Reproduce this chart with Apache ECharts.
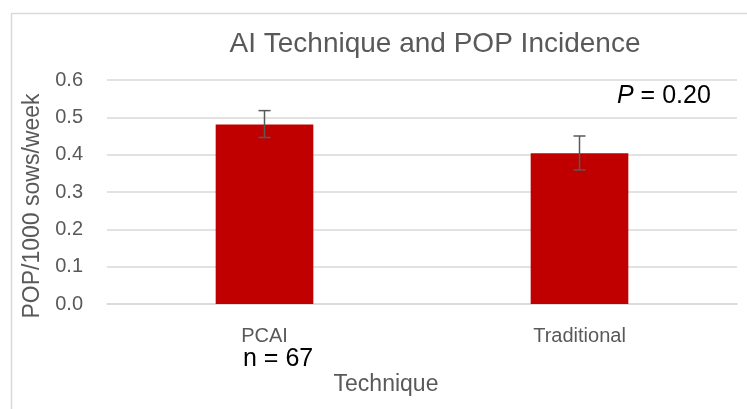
<!DOCTYPE html>
<html>
<head>
<meta charset="utf-8">
<script src="https://cdn.jsdelivr.net/npm/echarts@6/dist/echarts.min.js"></script>
<style>html,body{margin:0;padding:0;background:#fff;}#c{width:747px;height:409px;}</style>
</head>
<body>
<div id="c"></div>
<script>
var categories = ['PCAI', 'Traditional'];
var values = [0.481, 0.404];
var errLow = [0.446, 0.359];
var errHigh = [0.518, 0.450];
var yTicks = [0.0, 0.1, 0.2, 0.3, 0.4, 0.5, 0.6];

var FONT = 'Liberation Sans, Arial, sans-serif';
var chart = echarts.init(document.getElementById('c'));
chart.setOption({
  animation: false,
  backgroundColor: '#fff',
  title: {
    text: 'AI Technique and POP Incidence',
    left: 430, top: 25, textAlign: 'center',
    textStyle: {color: '#595959', fontSize: 28, fontWeight: 'normal', fontFamily: FONT}
  },
  grid: {left: 107, right: 10, top: 80, bottom: 105},
  xAxis: {
    type: 'category', data: categories,
    axisLine: {lineStyle: {color: '#d9d9d9', width: 1.5}},
    axisTick: {show: false},
    axisLabel: {color: '#595959', fontSize: 20, fontFamily: FONT, margin: 22}
  },
  yAxis: {
    type: 'value', min: 0, max: 0.6, interval: 0.1,
    axisLine: {show: false}, axisTick: {show: false},
    splitLine: {lineStyle: {color: '#d9d9d9', width: 1.5}},
    axisLabel: {color: '#595959', fontSize: 20, fontFamily: FONT, margin: 24,
      formatter: function (v) { return v.toFixed(1); }}
  },
  series: [
    {
      type: 'bar', data: values, barWidth: '31%',
      itemStyle: {color: '#c00000'}
    },
    {
      type: 'custom',
      data: categories.map(function (c, i) { return [i, errLow[i], errHigh[i]]; }),
      encode: {x: 0, y: [1, 2]},
      z: 10,
      renderItem: function (params, api) {
        var lo = api.coord([api.value(0), api.value(1)]);
        var hi = api.coord([api.value(0), api.value(2)]);
        var hw = 6;
        var st = {stroke: '#595959', lineWidth: 1.5};
        return {type: 'group', children: [
          {type: 'line', shape: {x1: hi[0], y1: hi[1], x2: lo[0], y2: lo[1]}, style: st},
          {type: 'line', shape: {x1: hi[0] - hw, y1: hi[1], x2: hi[0] + hw, y2: hi[1]}, style: st},
          {type: 'line', shape: {x1: lo[0] - hw, y1: lo[1], x2: lo[0] + hw, y2: lo[1]}, style: st}
        ]};
      }
    }
  ],
  graphic: [
    {type: 'rect', left: 9, top: 11, shape: {width: 760, height: 420},
      style: {fill: 'none', stroke: '#d9d9d9', lineWidth: 1.5}, silent: true},
    {type: 'text', x: 33, y: 206, rotation: Math.PI / 2,
      style: {text: 'POP/1000 sows/week', fill: '#595959', fontSize: 23, fontFamily: FONT,
        align: 'center', verticalAlign: 'middle'}},
    {type: 'text', x: 386, y: 385,
      style: {text: 'Technique', fill: '#595959', fontSize: 23, fontFamily: FONT,
        align: 'center', verticalAlign: 'middle'}},
    {type: 'text', x: 243, y: 359,
      style: {text: 'n = 67', fill: '#000', fontSize: 25, fontFamily: FONT,
        align: 'left', verticalAlign: 'middle'}},
    {type: 'text', x: 617, y: 96,
      style: {rich: {i: {fontStyle: 'italic', fontSize: 25, fontFamily: FONT, fill: '#000'},
                     n: {fontSize: 25, fontFamily: FONT, fill: '#000'}},
        text: '{i|P}{n| = 0.20}', align: 'left', verticalAlign: 'middle'}}
  ]
});
</script>
</body>
</html>
